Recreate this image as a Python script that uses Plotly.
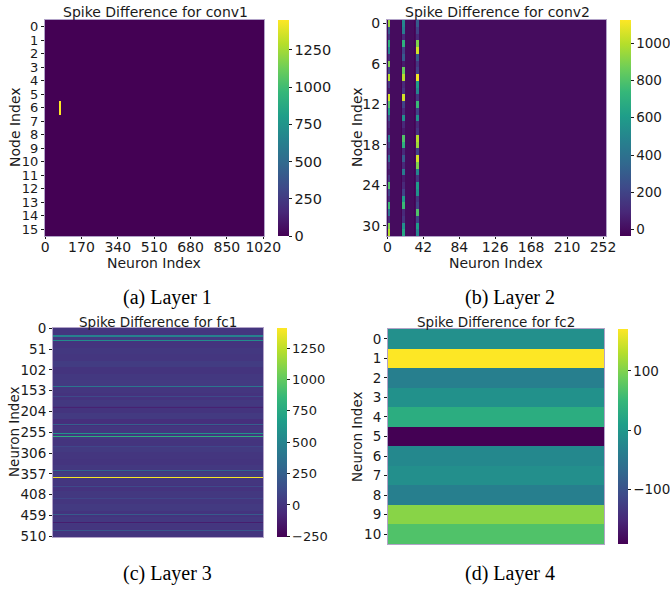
import numpy as np
import plotly.graph_objects as go

W, H = 670, 591

# ---------------- data ----------------
# (a) conv1: 16 nodes x 1024 neurons, zero except one hot spot
conv1_shape = (16, 1024)
conv1_hot_row = 6
conv1_hot_cols = [67, 68, 69, 70, 71, 72, 73, 74]
conv1_hot_val = 1450
conv1_xticks = [0, 170, 340, 510, 680, 850, 1020]
conv1_yticks = list(range(16))
conv1_cticks = [0, 250, 500, 750, 1000, 1250]
conv1_zrange = [0, 1451]

# (b) conv2: 32 nodes x 256 neurons, three streaks of activity
conv2_shape = (32, 256)
conv2_streak_cols = [[1, 2, 3], [18, 19, 20], [34, 35, 36]]
conv2_streak1 = [950, 300, 150, 700, 500, 100, 900, 200, 1000, 150, 50, 1050, 800, 600, 250, 100,
                 50, 450, 200, 100, 350, 100, 50, 150, 800, 200, 100, 750, 400, 100, 900, 1000]
conv2_streak2 = [500, 450, 100, 700, 200, 300, 50, 850, 1000, 100, 150, 1050, 200, 100, 550, 100,
                 50, 800, 700, 100, 300, 100, 450, 50, 100, 200, 600, 750, 100, 150, 550, 650]
conv2_streak3 = [300, 200, 100, 900, 1050, 300, 150, 200, 1100, 600, 500, 150, 750, 200, 550, 100,
                 150, 1000, 950, 200, 1050, 900, 500, 150, 600, 550, 150, 200, 800, 200, 600, 500]
conv2_dark_cols = [16, 32]
conv2_dark_val = -30
conv2_xticks = [0, 42, 84, 126, 168, 210, 252]
conv2_yticks = [0, 6, 12, 18, 24, 30]
conv2_cticks = [0, 200, 400, 600, 800, 1000]
conv2_zrange = [-35, 1125]

# (c) fc1: 512 neurons x 1 column
fc1_rows = 512
fc1_block_base = [10, 30, 0, 20, 10, 40, 0, 20, 30, 10, -10, 20, 0, 30, -30, 10,
                  20, 0, 30, 10, 0, 20, 40, 10, -10, 20, 10, 30, 0, 20, 10, 0]
fc1_line_start = [18, 29, 80, 142, 167, 193, 235, 256, 264, 290, 347, 359, 364, 388, 416, 455, 476, 494]
fc1_line_width = [3, 3, 2, 3, 2, 2, 3, 3, 3, 2, 3, 2, 3, 2, 2, 3, 2, 3]
fc1_line_val = [480, 550, 150, 400, 120, -100, 250, 600, 800, 100, 300, 150, 1400, 120, 100, 220, -120, 200]
fc1_yticks = [0, 51, 102, 153, 204, 255, 306, 357, 408, 459, 510]
fc1_cticks = [-250, 0, 250, 500, 750, 1000, 1250]
fc1_zrange = [-255, 1410]

# (d) fc2: 11 neurons x 1 column
fc2_vals = [-11, 171, -36, -9, 33, -193, -22, -12, -36, 105, 69]
fc2_yticks = list(range(11))
fc2_cticks = [-100, 0, 100]
fc2_zrange = [-193, 171]

# ---------------- build matrices ----------------
z1 = np.zeros(conv1_shape)
for c in conv1_hot_cols:
    z1[conv1_hot_row, c] = conv1_hot_val

z2 = np.zeros(conv2_shape)
for cols, vals in zip(conv2_streak_cols, [conv2_streak1, conv2_streak2, conv2_streak3]):
    for c in cols:
        z2[:, c] = vals
for c in conv2_dark_cols:
    z2[:, c] = conv2_dark_val

z3 = np.repeat(np.array(fc1_block_base, dtype=float), 16)[:fc1_rows]
for s, w, v in zip(fc1_line_start, fc1_line_width, fc1_line_val):
    z3[s:s + w] = v
z3 = z3.reshape(-1, 1)

z4 = np.array(fc2_vals, dtype=float).reshape(-1, 1)

# ---------------- layout helpers ----------------
def px_x(x):
    return x / W

def px_y(y):
    return 1 - y / H

TICK_COL = "#1a1a1a"
FONT = "DejaVu Sans"
EDGE = "#b2a3c8"

panels = [
    dict(z=z1, xr=(45, 264), yr=(20, 236), cb=(278, 289), zr=conv1_zrange, ct=conv1_cticks,
         xt=conv1_xticks, yt=conv1_yticks, fs=14, yfs=13, cfs=14.5),
    dict(z=z2, xr=(387, 606), yr=(20, 236), cb=(620, 631), zr=conv2_zrange, ct=conv2_cticks,
         xt=conv2_xticks, yt=conv2_yticks, fs=14, yfs=14, cfs=13.5),
    dict(z=z3, xr=(53, 263), yr=(328, 537), cb=(277, 287), zr=fc1_zrange, ct=fc1_cticks,
         xt=None, yt=fc1_yticks, fs=13.5, yfs=13.5, cfs=13),
    dict(z=z4, xr=(388, 604), yr=(329, 544), cb=(618, 628), zr=fc2_zrange, ct=fc2_cticks,
         xt=None, yt=fc2_yticks, fs=13.5, yfs=13.5, cfs=13.5),
]

fig = go.Figure()
layout = dict(width=W, height=H, margin=dict(l=0, r=0, t=0, b=0, autoexpand=False),
              paper_bgcolor="white", plot_bgcolor="white", showlegend=False)

for i, p in enumerate(panels):
    n = i + 1
    sfx = "" if n == 1 else str(n)
    nrows, ncols = p["z"].shape
    cax = "coloraxis" + sfx
    fig.add_trace(go.Heatmap(z=p["z"], x=np.arange(ncols), y=np.arange(nrows),
                             coloraxis=cax, xaxis="x" + sfx, yaxis="y" + sfx,
                             hoverinfo="skip"))
    (x0, x1), (y0, y1) = p["xr"], p["yr"]
    cx0, cx1 = p["cb"]
    layout[cax] = dict(
        colorscale="Viridis", cmin=p["zr"][0], cmax=p["zr"][1],
        colorbar=dict(x=px_x(cx0), xanchor="left", xref="paper", xpad=0, ypad=0,
                      y=px_y((y0 + y1) / 2), yanchor="middle", yref="paper",
                      len=y1 - y0, lenmode="pixels", thickness=cx1 - cx0,
                      thicknessmode="pixels", outlinewidth=0,
                      tickvals=p["ct"], ticks="outside", ticklen=3, tickwidth=1,
                      tickcolor=TICK_COL,
                      tickfont=dict(family=FONT, size=p["cfs"], color=TICK_COL)))
    xa = dict(domain=[px_x(x0), px_x(x1)], anchor="y" + sfx, range=[-0.5, ncols - 0.5],
              showgrid=False, zeroline=False, showline=True, mirror=True,
              linecolor=EDGE, linewidth=1, automargin=False)
    if p["xt"] is not None:
        xa.update(tickvals=p["xt"], ticks="outside", ticklen=2, tickcolor=TICK_COL,
                  tickangle=0, ticklabelstandoff=-4,
                  tickfont=dict(family=FONT, size=p["fs"], color=TICK_COL))
    else:
        xa.update(showticklabels=False, ticks="")
    ya = dict(domain=[px_y(y1), px_y(y0)], anchor="x" + sfx, range=[nrows - 0.5, -0.5],
              showgrid=False, zeroline=False, showline=True, mirror=True,
              linecolor=EDGE, linewidth=1, automargin=False,
              tickvals=p["yt"], ticks="outside", ticklen=3, tickcolor=TICK_COL,
              tickfont=dict(family=FONT, size=p["yfs"], color=TICK_COL))
    layout["xaxis" + sfx] = xa
    layout["yaxis" + sfx] = ya

fig.update_layout(**layout)

def ann(text, x, y, size, family=FONT, angle=0, color=TICK_COL):
    fig.add_annotation(text=text, x=px_x(x), y=px_y(y), xref="paper", yref="paper",
                       xanchor="center", yanchor="middle", showarrow=False,
                       textangle=angle, font=dict(family=family, size=size, color=color))

# titles
ann("Spike Difference for conv1", 155, 12, 14)
ann("Spike Difference for conv2", 497, 12, 14)
ann("Spike Difference for fc1", 158, 322, 13.5)
ann("Spike Difference for fc2", 496, 322, 13.5)
# axis labels
ann("Neuron Index", 154, 263, 14)
ann("Neuron Index", 496, 263, 14)
ann("Node Index", 15, 127, 14, angle=-90)
ann("Node Index", 357, 127, 14, angle=-90)
ann("Neuron Index", 14, 432, 13.5, angle=-90)
ann("Neuron Index", 357, 437, 13.5, angle=-90)
# captions
SERIF = "Liberation Serif"
ann("(a) Layer 1", 167, 297, 20, family=SERIF, color="black")
ann("(b) Layer 2", 510, 297, 20, family=SERIF, color="black")
ann("(c) Layer 3", 167, 573, 20, family=SERIF, color="black")
ann("(d) Layer 4", 510, 573, 20, family=SERIF, color="black")

fig.write_html("out.html")
